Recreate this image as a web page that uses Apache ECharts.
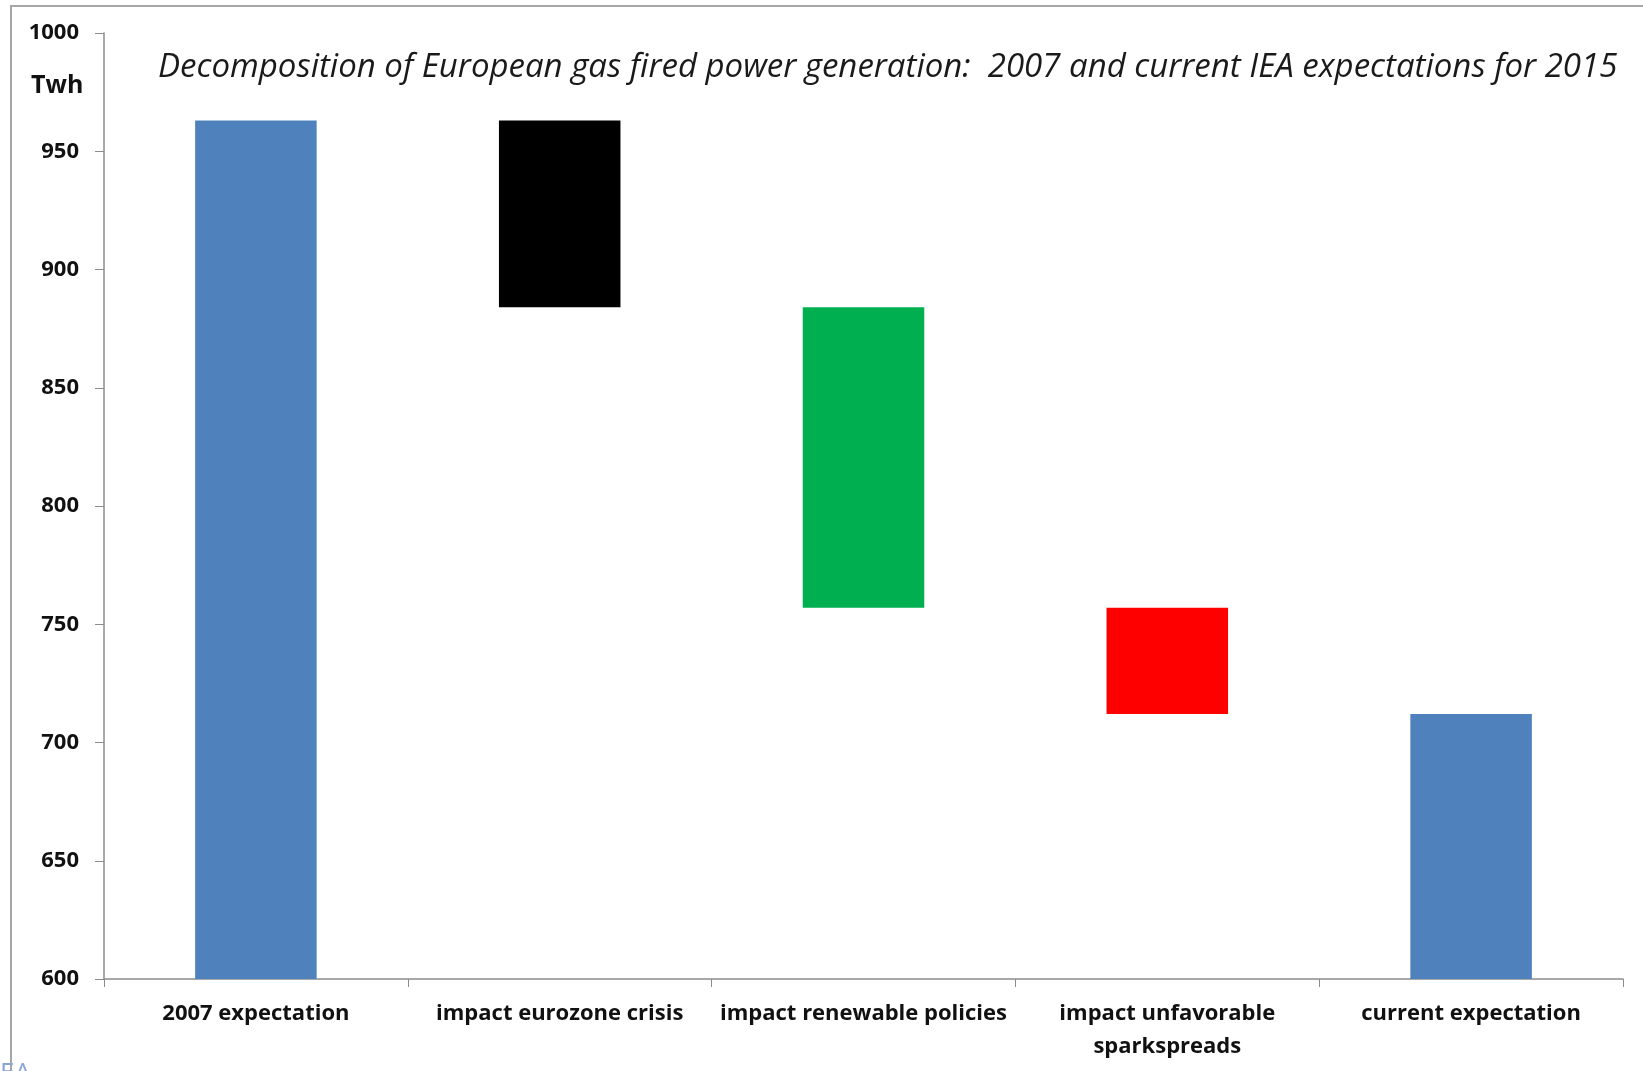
<!DOCTYPE html>
<html>
<head>
<meta charset="utf-8">
<title>European gas fired power generation</title>
<script src="https://cdn.jsdelivr.net/npm/echarts@6/dist/echarts.min.js"></script>
<style>
    html, body { margin: 0; padding: 0; background: #fff; }
    #chart { width: 1643px; height: 1071px; }
</style>
</head>
<body>
<div id="chart"></div>
<script>
// data (TWh)
const categories = [
    "2007 expectation",
    "impact eurozone crisis",
    "impact renewable policies",
    "impact unfavorable\nsparkspreads",
    "current expectation",
];
const startValue = 963;
const impacts = [-79, -127, -45];
const endValue = 712;
const barColors = ["#4F81BD", "#000000", "#00B050", "#FF0000", "#4F81BD"];
const yTicks = { min: 600, max: 1000, interval: 50 };

// build the waterfall: invisible base + visible part
const base = [0];
const visible = [startValue];
let level = startValue;
impacts.forEach((d) => {
    level += d;
    base.push(level);
    visible.push(-d);
});
base.push(0);
visible.push(endValue);

const chart = echarts.init(document.getElementById("chart"));

const fontFamily = "'Open Sans', sans-serif";

const options = {
    animation: false,
    backgroundColor: "#fff",
    grid: {
        left: 104,
        right: 20,
        top: 33,
        bottom: 92,
    },
    graphic: [
        {
            type: "rect",
            shape: { x: 11, y: 6, width: 1700, height: 1200 },
            style: { fill: "none", stroke: "#a6a6a6", lineWidth: 2 },
            silent: true,
        },
        {
            type: "text",
            left: 158,
            top: 51,
            style: {
                text: "Decomposition of European gas fired power generation:  2007 and current IEA expectations for 2015",
                font: "italic 33px " + fontFamily,
                fill: "#1a1a1a",
            },
        },
        {
            type: "text",
            left: 31,
            top: 73,
            style: {
                text: "Twh",
                font: "bold 25px " + fontFamily,
                fill: "#111",
            },
        },
        {
            type: "text",
            left: 0,
            top: 1061,
            style: {
                text: "EA",
                font: "26px " + fontFamily,
                fill: "#8aa6d2",
            },
        },
    ],
    xAxis: {
        type: "category",
        data: categories,
        axisLine: { lineStyle: { color: "#8c8c8c", width: 1.5 } },
        axisTick: { show: true, length: 8, lineStyle: { color: "#8c8c8c" } },
        axisLabel: {
            color: "#111",
            fontSize: 22,
            fontWeight: "bold",
            fontFamily: fontFamily,
            lineHeight: 33,
            margin: 18,
            interval: 0,
        },
    },
    yAxis: {
        type: "value",
        min: yTicks.min,
        max: yTicks.max,
        interval: yTicks.interval,
        axisLine: { show: true, lineStyle: { color: "#8c8c8c", width: 1.5 } },
        axisTick: { show: true, length: 9, lineStyle: { color: "#8c8c8c" } },
        splitLine: { show: false },
        axisLabel: {
            color: "#111",
            fontSize: 22,
            fontWeight: "bold",
            fontFamily: fontFamily,
            margin: 25,
            formatter: (v) => String(v),
        },
    },
    series: [
        {
            name: "base",
            type: "bar",
            stack: "total",
            barWidth: "40%",
            itemStyle: { color: "transparent" },
            emphasis: { disabled: true },
            data: base,
        },
        {
            name: "value",
            type: "bar",
            stack: "total",
            barWidth: "40%",
            data: visible.map((v, i) => ({
                value: v,
                itemStyle: { color: barColors[i] },
            })),
        },
    ],
};

chart.setOption(options);
</script>
</body>
</html>
